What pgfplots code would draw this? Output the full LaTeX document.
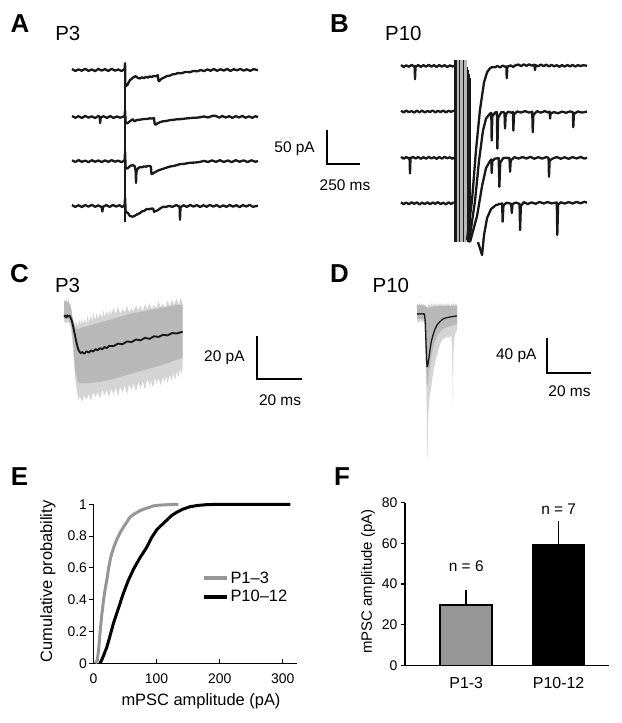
\documentclass[border=0pt]{standalone}
\usepackage{fontspec}
\setmainfont{Liberation Sans}
\usepackage{pgfplots}
\pgfplotsset{compat=1.18}
\definecolor{lgray}{RGB}{212,212,212}
\definecolor{mgray}{RGB}{184,184,184}
\definecolor{bgray}{RGB}{150,150,150}
\definecolor{trace}{RGB}{25,25,25}
\newcommand{\fs}[1]{\fontsize{#1}{#1}\selectfont}
\pgfplotsset{
  tracepanel/.style={hide axis, scale only axis, clip=false, anchor=south west,
    every axis plot/.append style={line join=round}},
  tr/.style={trace, line width=2.3bp},
}
\begin{document}
\begin{tikzpicture}
\path[use as bounding box] (0bp,0bp) rectangle (622bp,-723bp);
% panel letters and titles
\node[font=\fs{26}\bfseries] at (20bp,-23.7bp) {A};
\node[font=\fs{26}\bfseries] at (339.5bp,-23.7bp) {B};
\node[font=\fs{26}\bfseries] at (19.5bp,-273.7bp) {C};
\node[font=\fs{26}\bfseries] at (339.5bp,-274bp) {D};
\node[font=\fs{26}\bfseries] at (19.5bp,-477bp) {E};
\node[font=\fs{26}\bfseries] at (342bp,-477bp) {F};
\node[font=\fs{20.5}] at (67.8bp,-33.3bp) {P3};
\node[font=\fs{20.5}] at (403.3bp,-33.3bp) {P10};
\node[font=\fs{20.5}] at (67.5bp,-285bp) {P3};
\node[font=\fs{20.5}] at (390.8bp,-285bp) {P10};

% ---------------- Panel A ----------------
\begin{axis}[tracepanel, at={(72bp,-222bp)}, width=186bp, height=158bp,
  xmin=0, xmax=1409, ymin=-23.5, ymax=208.8]
\addplot[tr] coordinates {(0,201.4) (25,198.6) (50,200.9) (75,198.9) (100,201.7) (125,198.7) (150,200.8) (175,198.4) (200,201.5) (225,199.1) (250,201.3) (275,198.6) (300,201.8) (325,199.0) (350,200.7) (375,198.5) (398,201.1) (402,210) (404,180) (410,176.5) (420,178) (430,182) (440,185.5) (450,186.5) (460,188.8) (470,189.5) (480,191) (490,189.6) (500,188.2) (515,187.5) (530,189.2) (545,188.1) (560,189.8) (575,188.9) (590,190.6) (605,189.7) (620,191.3) (635,190.8) (650,192.4) (654,185) (660,183.5) (670,185.8) (685,187.9) (700,189.1) (720,191.2) (740,191.6) (760,193.5) (780,193.9) (800,195.4) (830,195.3) (860,197.1) (894,196.8) (920,198.6) (950,198.0) (975,200.0) (1000,198.3) (1025,200.9) (1050,198.9) (1075,201.4) (1100,198.8) (1125,201.1) (1150,199.1) (1175,201.6) (1200,198.6) (1225,201.2) (1250,199.4) (1275,201.7) (1300,199.0) (1325,201.0) (1350,198.7) (1375,201.3) (1409,199.7)};
\addplot[tr] coordinates {(0,132.3) (25,129.8) (50,132.0) (75,129.5) (100,132.5) (125,130.0) (150,131.8) (175,129.4) (200,132.4) (210,131) (213,122) (218,130.5) (240,131.9) (265,129.6) (290,132.2) (315,129.5) (340,131.7) (365,129.9) (398,132.1) (402,140) (406,124) (414,121.3) (425,122.5) (439,124.7) (450,126.2) (462,127.6) (470,125) (477,124.7) (490,126.5) (515,126.9) (540,127.8) (565,128.0) (590,128.9) (610,128.6) (621,129.4) (626,121) (632,119.5) (650,121.8) (667,123.2) (690,124.6) (715,125.0) (742,126.3) (770,126.8) (800,127.7) (830,127.8) (856,128.6) (880,129.0) (910,129.6) (940,129.8) (970,130.5) (1000,131.7) (1030,130.2) (1068,132.8) (1090,132.4) (1115,129.9) (1140,132.3) (1165,130.1) (1190,132.1) (1215,129.6) (1240,132.2) (1265,130.2) (1290,132.4) (1315,129.8) (1340,131.9) (1365,129.7) (1390,132.0) (1409,130.7)};
\addplot[tr] coordinates {(0,67.2) (25,64.8) (50,67.4) (75,65.0) (100,66.8) (125,64.5) (150,67.3) (175,65.1) (200,66.9) (225,64.6) (250,67.1) (275,64.9) (300,67.5) (325,65.2) (350,66.7) (375,64.5) (398,67.0) (402,80) (406,57) (415,55) (424,55.7) (435,58) (447,59.4) (462,60.1) (475,58.5) (482,52) (485,34) (488,50) (492,52.8) (503,56) (515,57.2) (530,57.0) (545,58.2) (560,57.8) (575,58.9) (591,58.6) (598,57.9) (602,46.9) (610,47.5) (629,49.8) (650,52.0) (680,54.1) (705,55.7) (740,58.0) (780,59.3) (818,61.6) (850,62.0) (890,63.5) (930,63.9) (970,64.8) (1000,66.4) (1030,64.7) (1060,67.1) (1090,64.9) (1120,67.4) (1150,64.8) (1180,66.9) (1210,64.6) (1240,67.3) (1270,65.1) (1300,67.1) (1330,64.7) (1360,67.2) (1390,65.0) (1409,66.2)};
\addplot[tr] coordinates {(0,1.3) (25,-1.3) (50,1.1) (75,-1.5) (100,1.4) (125,-0.9) (150,1.7) (175,-1.1) (200,0.9) (225,-1.6) (230,-8) (235,-1.0) (260,1.3) (285,-1.3) (310,1.5) (335,-0.8) (360,1.2) (380,-1.4) (398,1.0) (402,12) (406,-7) (409,-8.8) (424,-10.3) (439,-14.7) (450,-15.2) (462,-15.7) (480,-13.8) (497,-12.0) (515,-10.3) (530,-8.0) (548,-6.9) (566,-4.4) (585,-4.6) (606,-3.7) (615,-4.0) (621,-8.4) (635,-7.5) (652,-5.9) (670,-3.3) (689,-1.0) (710,-1.5) (735,0.2) (760,-1.2) (790,1.4) (815,-1.0) (818,-20) (822,-2) (845,1.2) (870,-1.3) (895,1.6) (920,-0.8) (945,1.3) (970,-1.4) (995,1.1) (1020,-1.1) (1045,1.7) (1070,-0.9) (1095,1.4) (1120,-1.5) (1145,1.0) (1170,-1.2) (1195,1.5) (1220,-1.0) (1245,1.2) (1270,-1.6) (1295,1.3) (1320,-0.7) (1345,1.6) (1370,-1.1) (1409,0.4)};
% stimulus artifact
\addplot[trace, line width=1.8bp] coordinates {(402,-23.5) (402,208.8)};
% scale bar 50 pA / 250 ms
\draw[black, line width=2bp] (axis cs:1932,111.8) -- (axis cs:1932,61.8) -- (axis cs:2182,61.8);
\node[anchor=east, font=\fs{15.5}] at (axis cs:1866,84.9) {50 pA};
\node[font=\fs{15.5}] at (axis cs:2068,30.4) {250 ms};
\end{axis}

% ---------------- Panel B ----------------
\begin{axis}[tracepanel, at={(401bp,-255bp)}, width=186bp, height=194.96bp,
  xmin=0, xmax=1409, ymin=-76, ymax=210.7, unbounded coords=jump]
\addplot[fill=mgray, draw=none] coordinates {(417,-57) (500,-57) (500,210.7) (417,210.7)};
\addplot[trace, line width=0.7bp] coordinates {(401.5,-57) (401.5,210.7) (nan,nan) (406,-57) (406,210.7) (nan,nan) (411,-57) (411,210.7) (nan,nan) (416,-57) (416,210.7) (nan,nan) (445,-57) (445,210.7) (nan,nan) (470,-57) (470,210.7) (nan,nan) (500,-57) (500,200) (nan,nan) (507,-57) (507,196) (nan,nan) (515,-57) (515,190) (nan,nan) (525,-57) (525,185)};
\addplot[tr] coordinates {(0,203.3) (20,200.6) (40,203.0) (60,200.8) (80,203.5) (100,201.2) (104,202) (106,182.4) (110,200.5) (130,203.4) (150,200.7) (170,203.2) (190,200.9) (210,203.6) (230,201.1) (250,203.1) (270,200.6) (290,203.3) (310,201.0) (330,203.2) (350,200.4) (370,202.9) (390,201.2) (401,202.5)};
\addplot[tr] coordinates {(500,-54) (538,4.5) (568,78) (598,137) (629,178) (652,192.7) (674,198.6) (690,200.4) (712,200) (730,202.0) (750,199.9) (770,202.6) (790,200.8) (798,201.5) (801,184) (806,200.8) (830,202.9) (850,200.6) (870,203.4) (890,204.0) (910,201.8) (930,204.3) (950,202.2) (970,204.4) (990,202.4) (1010,204.0) (1015,196) (1020,203.0) (1040,201.7) (1060,204.1) (1080,201.6) (1100,203.9) (1120,201.3) (1140,203.6) (1160,201.5) (1180,203.1) (1200,200.8) (1220,203.3) (1240,201.0) (1260,203.4) (1280,201.4) (1300,203.5) (1320,201.1) (1340,203.2) (1360,201.9) (1380,203.0) (1409,202.4)};
\addplot[tr] coordinates {(0,136.1) (20,133.7) (40,136.4) (60,134.0) (80,135.7) (100,133.5) (120,136.2) (140,133.9) (160,136.3) (180,133.6) (200,135.9) (220,134.2) (240,136.5) (260,133.8) (280,136.0) (300,134.3) (320,136.4) (340,133.7) (360,136.1) (380,134.5) (401,136.5)};
\addplot[tr] coordinates {(515,-57.6) (561,4) (591,62.8) (621,107) (644,124.7) (674,132) (684,133) (687,92.4) (692,128) (712,133.5) (726,134.2) (730,80.6) (736,126) (760,134.1) (784,133.6) (788,110) (793,130) (810,134.7) (840,133.2) (848,134.4) (851,107) (856,130.5) (880,135.1) (910,133.5) (940,135.6) (970,133.4) (994,134.7) (998,104.6) (1003,130) (1030,135.4) (1060,133.3) (1090,135.7) (1110,133.6) (1126,134.8) (1129,124.7) (1134,132.5) (1160,134.1) (1190,132.4) (1220,134.9) (1250,133.1) (1280,135.2) (1302,133.9) (1305,112) (1310,131.5) (1340,135.1) (1370,133.4) (1409,134.9)};
\addplot[tr] coordinates {(0,68.2) (20,65.6) (40,68.0) (60,65.8) (65,67.0) (68,44) (72,66.1) (90,68.3) (110,65.9) (130,68.1) (150,65.5) (170,67.9) (190,65.7) (210,68.2) (230,66.0) (250,67.8) (270,65.4) (290,68.0) (310,65.8) (330,68.3) (350,66.2) (370,67.7) (390,65.5) (401,67.5)};
\addplot[tr] coordinates {(523,-57) (576,-18.7) (614,25.4) (644,51.9) (674,62) (684,64.5) (687,44.5) (692,62) (712,65.8) (740,66.4) (745,24.4) (752,60) (775,66.7) (800,66.9) (822,66.5) (826,46.4) (831,63) (860,67.9) (890,65.7) (920,68.1) (950,65.9) (980,68.3) (1010,65.6) (1040,67.9) (1070,65.8) (1100,68.0) (1118,66.8) (1121,39) (1126,63) (1150,65.9) (1180,68.1) (1210,65.6) (1240,67.7) (1270,65.4) (1300,68.0) (1330,66.0) (1360,68.2) (1390,65.7) (1409,67.2)};
\addplot[tr] coordinates {(0,1.4) (20,-1.2) (40,1.1) (60,-1.4) (80,1.6) (100,-0.8) (120,1.3) (140,-1.6) (160,1.0) (180,-1.0) (200,1.5) (220,-1.3) (240,1.2) (260,-0.7) (280,1.7) (300,-1.2) (320,0.9) (340,-1.5) (360,1.4) (380,-0.9) (401,1.5)};
\addplot[tr] coordinates {(583,-57) (614,-76) (629,-46.6) (652,-21.6) (682,-8.4) (720,-2.5) (750,-1.0) (766,-0.2) (770,-27) (776,-3) (800,1.0) (835,-0.8) (839,-14.3) (845,-1) (870,1.1) (898,-0.8) (902,-39.3) (908,-4) (930,1.7) (960,-1.0) (990,1.4) (1020,-0.7) (1050,2.0) (1080,-0.2) (1110,1.9) (1140,-0.1) (1180,1.2) (1184,-46.6) (1190,-2) (1210,1.5) (1240,-0.3) (1270,1.8) (1300,-0.2) (1330,2.1) (1360,0.1) (1390,2.2) (1409,0.9)};
\end{axis}

% ---------------- Panel C ----------------
\begin{axis}[tracepanel, at={(64bp,-402.7bp)}, width=118.6bp, height=107.5bp,
  xmin=0, xmax=52.7, ymin=-40, ymax=10]
\addplot[fill=lgray, draw=none] coordinates {(0,8.7) (0.5,5) (1,9) (1.5,6) (2,8.5) (2.5,5.5) (3,6) (3.5,2) (4,-1) (4.5,-2) (5,-4) (5.5,-2.5) (6,-4.5) (7,-1.5) (7.5,-4) (8,-0.5) (8.5,-3.5) (9,-1.6) (10,-3) (10.5,1) (11,-2.5) (12,0.5) (12.5,-2.5) (13,1.5) (14,-1.5) (14.5,2) (15,-1) (16,1.7) (17,-0.5) (17.5,3) (18,0) (19,2.5) (20,0.5) (20.5,3.5) (21,1) (22,4) (23,1.5) (24,4.5) (25,1.5) (26,3.5) (27,2) (28,5) (29,2) (30,4) (31,2.5) (32,5.5) (33,3) (34,5) (35,2.5) (36,6) (37,3.5) (38,6.5) (39,3.5) (40,5.5) (41,4) (42,7) (43,4.5) (44,6) (45,4) (46,7.5) (47,5) (48,8) (49,5.5) (50,8.5) (51,5.5) (52,9) (52.7,6)
 (52.7,-24) (52.2,-26.5) (51.5,-24.5) (51,-28) (50,-25.5) (49.5,-29.5) (48.5,-26) (48,-30) (47,-27) (46,-31) (45.5,-27.5) (44.5,-30.5) (44,-27.5) (43,-32) (42,-28.5) (41,-31.5) (40.5,-28) (39.5,-33) (38.5,-29.5) (38,-32) (37,-29) (36,-34) (35,-30) (34,-33.5) (33,-30.5) (32,-35) (31,-31) (30,-34) (29,-31.5) (28,-36) (27,-32) (26,-35.5) (25,-32.5) (24,-37) (23,-33) (22,-36) (21,-33.5) (20,-37.5) (19,-34) (18,-36.5) (17,-34) (16,-38) (15,-35) (14,-37.5) (13,-35) (12,-39) (11,-36) (10,-38.5) (9,-36.5) (8,-39.5) (7,-37) (6.5,-39) (6,-36) (5.5,-33) (5,-29) (4.5,-22) (4,-15) (3.5,-9) (3,-5) (2.5,-3.5) (2,-2.5) (1,-3) (0,-2.3)};
\addplot[fill=mgray, draw=none] coordinates {(0,7.5) (1,7) (2,7) (3,4) (3.5,1) (4,-2) (5,-5) (6,-6) (8,-5) (10,-4.5) (15,-3) (20,-1.5) (25,0) (30,1.5) (35,2.5) (40,3.5) (45,4.5) (50,5.5) (52.7,5.5) (52.7,-19) (50,-20) (45,-22) (40,-23.5) (35,-25) (30,-26.5) (25,-28) (20,-29.5) (15,-30.5) (10,-31) (7,-31) (6,-30) (5,-25) (4.5,-18) (4,-11) (3.5,-6) (3,-3) (2,-1) (0,-1)};
\addplot[trace, line width=1.9bp] coordinates {(0,0) (0.5,0.5) (1,-0.3) (1.5,0.6) (2,0.1) (2.5,0.4) (3,-0.6) (3.5,-2) (4,-4.2) (4.5,-6.8) (5,-9.3) (5.5,-11.8) (6,-14) (6.5,-15.6) (7,-16.5) (7.5,-16.9) (8,-16.4) (9,-17.2) (10,-16.1) (11,-16.7) (12,-15.7) (13,-16.2) (14,-15.1) (15,-15.6) (16,-14.6) (17,-15.2) (18,-14.1) (19,-14.6) (20,-13.6) (22,-13.7) (24,-12.5) (26,-12.8) (28,-11.5) (30,-11.8) (32,-10.6) (34,-11.0) (36,-9.8) (38,-10.3) (40,-9.1) (42,-9.4) (44,-8.4) (46,-8.7) (48,-7.6) (50,-7.8) (52.7,-7.0)};
\draw[black, line width=2bp] (axis cs:85.9,-9.1) -- (axis cs:85.9,-29.1) -- (axis cs:105.9,-29.1);
\node[anchor=east, font=\fs{15.5}] at (axis cs:81.8,-19) {20 pA};
\node[font=\fs{15.5}] at (axis cs:96,-38.7) {20 ms};
\end{axis}

% ---------------- Panel D ----------------
\begin{axis}[tracepanel, at={(417bp,-461.9bp)}, width=40.04bp, height=159.1bp,
  xmin=0, xmax=18.2, ymin=-172, ymax=13]
\addplot[fill=lgray, draw=none] coordinates {(0,12.8) (0.5,9) (1,13) (1.5,10) (2,12.5) (2.5,9.5) (3,12) (3.5,9) (4,11) (4.5,7) (5,10) (5.5,11.5) (6,8.5) (6.5,12.5) (7,9) (7.5,13) (8,10) (8.5,12) (9,8.5) (9.5,12.5) (10,9.5) (10.5,13) (11,10) (11.5,12.5) (12,9) (12.5,12) (13,9.5) (13.5,13) (14,10) (14.5,12.5) (15,9) (15.5,12) (16,9.5) (16.5,13) (17,10) (17.5,12) (18.2,10.5)
 (18.2,-18.6) (17.5,-22) (17,-28) (16.6,-40) (16.45,-80) (16.3,-111.6) (16.15,-70) (15.9,-35) (15.5,-24.4) (14.5,-28) (13.5,-26) (13,-28) (12,-29) (11.5,-30) (10.5,-35) (10,-39.5) (9.2,-47) (8.5,-53.5) (7.8,-62) (7.2,-71) (6.7,-80) (6.3,-88) (5.8,-95) (5.5,-102) (5.2,-115) (5.0,-130) (4.85,-152) (4.7,-172) (4.55,-150) (4.4,-112) (4.2,-82) (4.0,-60) (3.8,-40) (3.6,-25) (3.3,-12) (3.0,-9.3) (2,-8) (1,-9.5) (0,-9.3)};
\addplot[fill=mgray, draw=none] coordinates {(0,10.5) (3.5,10) (4,8) (5,7) (8,9) (12,9.5) (18.2,9.5) (18.2,-12) (15,-14) (12,-17) (10,-22) (8,-33) (6.5,-50) (5.5,-68) (5,-80) (4.6,-84) (4.2,-62) (3.8,-28) (3.5,-10) (3,-6) (0,-5.5)};
\addplot[trace, line width=1.3bp] coordinates {(0,0.3) (0.5,-0.2) (1,0.4) (1.5,-0.1) (2,0.3) (2.5,0) (3,0.2) (3.4,0) (3.8,-10) (4.1,-35) (4.4,-55) (4.6,-61.3) (4.9,-60) (5.3,-53) (5.9,-41.9) (6.5,-32) (7.3,-24.4) (8.2,-17.5) (9.1,-12.8) (10.4,-9) (11.8,-5.8) (13.4,-4.3) (15,-3.5) (16.6,-2.8) (18.2,-2.3)};
\draw[black, line width=2bp] (axis cs:59.2,-28.3) -- (axis cs:59.2,-68.3) -- (axis cs:79.2,-68.3);
\node[anchor=east, font=\fs{15.5}] at (axis cs:55.9,-48.6) {40 pA};
\node[font=\fs{15.5}] at (axis cs:69.3,-90.3) {20 ms};
\end{axis}

% ---------------- Panel E ----------------
\begin{axis}[at={(93.5bp,-663.3bp)}, anchor=south west, scale only axis,
  width=203.2bp, height=159bp,
  xmin=0, xmax=322, ymin=0, ymax=1,
  axis lines*=left, axis line style={line width=1.2bp},
  xtick={0,100,200,300}, ytick={0,0.2,0.4,0.6,0.8,1},
  tick align=inside, major tick length=4bp,
  tick style={black, line width=1.1bp},
  y tick style={xshift=-4bp},
  /pgf/number format/assume math mode=true,
  tick label style={font=\fs{14}},
  xticklabel style={yshift=-7bp},
  yticklabel style={xshift=-3bp},
  xlabel={mPSC amplitude (pA)}, ylabel={Cumulative probability},
  label style={font=\fs{16.5}},
  xlabel style={at={(axis description cs:0.529,-0.237)}, anchor=center},
  ylabel style={at={(axis description cs:-0.225,0.515)}, anchor=center},
  legend image code/.code={\draw[#1, line width=3.5bp] (0bp,0bp) -- (23bp,0bp);},
  legend cell align=left,
  legend style={draw=none, fill=none, at={(0.534,0.477)}, anchor=west,
    font=\fs{16.5}, inner sep=0pt, row sep=2bp, nodes={inner sep=1.8bp}},
  clip=false]
\addplot[bgray, line width=3bp] coordinates {(3,0) (6,0.02) (8,0.08) (10.3,0.19) (13,0.30) (16,0.40) (19,0.48) (21,0.52) (24,0.60) (27,0.66) (28.9,0.69) (33,0.74) (37,0.78) (42,0.82) (48,0.86) (53,0.89) (58,0.92) (65,0.94) (73.8,0.96) (80,0.97) (88,0.98) (95,0.99) (105,0.995) (115,0.997) (125,0.999) (134.6,1)};
\addlegendentry{P1–3}
\addplot[black, line width=3bp] coordinates {(10,0) (13,0.02) (16,0.05) (21,0.10) (26,0.17) (31.5,0.25) (39,0.34) (47.3,0.44) (55,0.52) (63.2,0.59) (73,0.66) (84.4,0.73) (92,0.79) (100.3,0.84) (108,0.87) (116,0.90) (124,0.93) (132,0.95) (142,0.97) (153,0.985) (165,0.993) (180,0.998) (200,1) (250,1) (312,1)};
\addlegendentry{P10–12}
\end{axis}

% ---------------- Panel F ----------------
\begin{axis}[at={(405bp,-665.3bp)}, anchor=south west, scale only axis,
  width=204bp, height=162.6bp,
  xmin=0.337, xmax=2.545, ymin=0, ymax=80,
  axis lines*=left, axis line style={line width=1.3bp},
  xtick={1,2}, xticklabels={P1-3,P10-12},
  ytick={0,20,40,60,80},
  tick align=outside, major tick length=4bp,
  tick style={black, line width=1.1bp},
  x tick style={draw=none},
  /pgf/number format/assume math mode=true,
  tick label style={font=\fs{14}},
  xticklabel style={font=\fs{16}, yshift=-5bp},
  ylabel={mPSC amplitude (pA)},
  ylabel style={font=\fs{15}, at={(axis description cs:-0.181,0.514)}, anchor=center},
  clip=false]
\addplot[ybar, bar width=0.563, bar shift=0pt, fill=bgray, draw=black, line width=1.6bp,
  error bars/.cd, y dir=plus, y explicit,
  error bar style={line width=1.6bp, black},
  error mark options={line width=1.6bp, mark size=5.5bp, black}]
  coordinates {(1,29.8) +- (0,4.6)};
\addplot[ybar, bar width=0.563, bar shift=0pt, fill=black, draw=black, line width=1.6bp,
  error bars/.cd, y dir=plus, y explicit,
  error bar style={line width=1.6bp, black},
  error mark options={line width=1.6bp, mark size=5.5bp, black}]
  coordinates {(2,59.5) +- (0,8.7)};
\node[font=\fs{15.5}] at (axis cs:1,48.9) {n = 6};
\node[font=\fs{15.5}] at (axis cs:2,76.8) {n = 7};
\end{axis}
\end{tikzpicture}
\end{document}
